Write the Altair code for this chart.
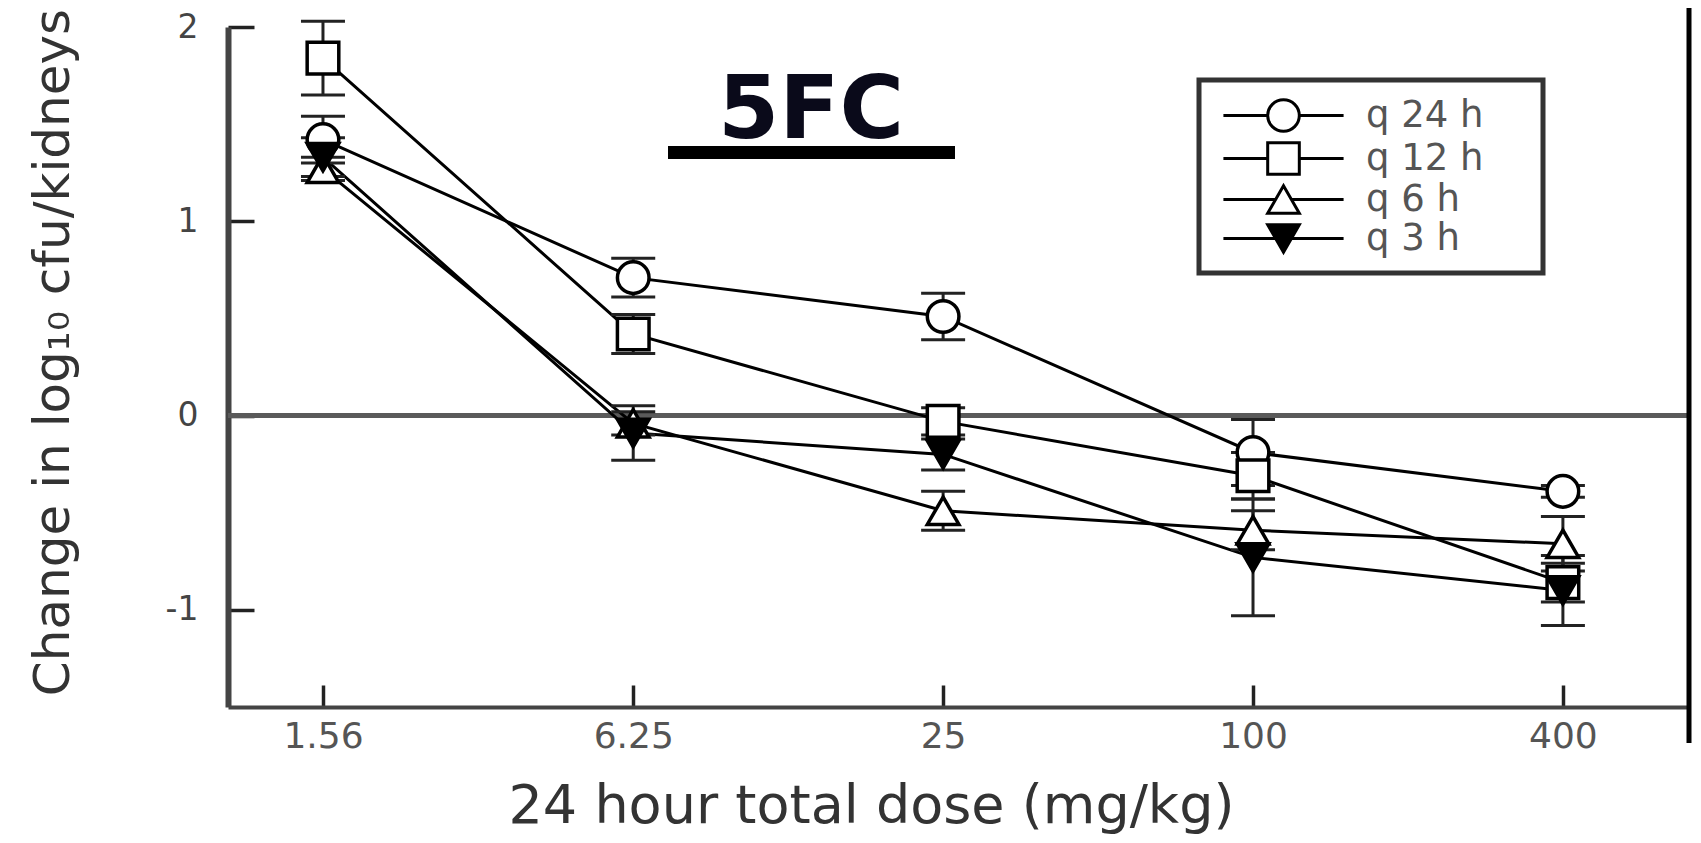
import altair as alt
import pandas as pd

# ---- data ----
doses = [1.56, 6.25, 25, 100, 400]
series_names = ["q 24 h", "q 12 h", "q 6 h", "q 3 h"]
q24 = [1.42, 0.71, 0.51, -0.19, -0.39]
q24_err = [0.12, 0.10, 0.12, 0.17, 0.03]
q12 = [1.84, 0.42, -0.03, -0.31, -0.86]
q12_err = [0.19, 0.10, 0.07, 0.12, 0.10]
q6 = [1.27, -0.04, -0.49, -0.59, -0.66]
q6_err = [0.06, 0.06, 0.10, 0.10, 0.14]
q3 = [1.33, -0.09, -0.20, -0.73, -0.90]
q3_err = [0.10, 0.14, 0.08, 0.30, 0.18]
y_ticks = [-1, 0, 1, 2]
x_ticks = doses
zero_line = [0]
title_text = "5FC"
x_title = "24 hour total dose (mg/kg)"
y_title = "Change in log\u2081\u2080 cfu/kidneys"

rows = []
for name, vals, errs in zip(series_names, [q24, q12, q6, q3], [q24_err, q12_err, q6_err, q3_err]):
    for d, v, e in zip(doses, vals, errs):
        rows.append({"series": name, "dose": d, "value": v, "lo": v - e, "hi": v + e})
df = pd.DataFrame(rows)
zero_df = pd.DataFrame({"ref": zero_line})
title_df = pd.DataFrame({"label": [title_text]})

FONT = "DejaVu Sans"
W, H = 1460, 680

xscale = alt.Scale(type="log", domain=[1.02, 700], nice=False)
yscale = alt.Scale(domain=[-1.5, 2], nice=False, zero=False)

x_axis = alt.Axis(values=x_ticks, format="~g", title=x_title, grid=False,
                  tickSize=alt.ExprRef("-22"), tickWidth=3.5, tickColor="#222",
                  domainColor="#444", domainWidth=4,
                  labelFontSize=36, labelFont=FONT, labelColor="#555", labelPadding=34,
                  titleFontSize=54, titleFont=FONT, titleFontWeight="normal", titleColor="#333",
                  titleX=643, titleY=115, titleBaseline="alphabetic", titleAlign="center")
y_axis = alt.Axis(values=y_ticks, labelExpr="'' + datum.value", title=y_title, grid=False,
                  tickSize=alt.ExprRef("-26"), tickWidth=3.5, tickColor="#222",
                  domainColor="#444", domainWidth=6,
                  labelFontSize=33, labelFont=FONT, labelColor="#444", labelPadding=56,
                  titleFontSize=50, titleFont=FONT, titleFontWeight="normal", titleColor="#333",
                  titleAngle=270, titleX=-160, titleY=325, titleBaseline="alphabetic", titleAlign="center")

X = alt.X("dose:Q", scale=xscale, axis=x_axis)
Y = alt.Y("value:Q", scale=yscale, axis=y_axis)

zero = alt.Chart(zero_df).mark_rule(color="#5a5a5a", strokeWidth=5).encode(y=alt.Y("ref:Q", scale=yscale))

lines = alt.Chart(df).mark_line(color="black", strokeWidth=3).encode(
    x=X, y=Y, detail="series:N", order="dose:Q")

err = alt.Chart(df).mark_rule(color="#222", strokeWidth=3).encode(
    x=alt.X("dose:Q", scale=xscale), y=alt.Y("lo:Q", scale=yscale), y2="hi:Q")
cap_lo = alt.Chart(df).mark_tick(orient="horizontal", size=44, thickness=3, color="#222", opacity=1).encode(
    x=alt.X("dose:Q", scale=xscale), y=alt.Y("lo:Q", scale=yscale))
cap_hi = alt.Chart(df).mark_tick(orient="horizontal", size=44, thickness=3, color="#222", opacity=1).encode(
    x=alt.X("dose:Q", scale=xscale), y=alt.Y("hi:Q", scale=yscale))

shapes = ["circle", "square", "triangle-up", "triangle-down"]
fills = ["white", "white", "white", "black"]
strokes = ["black", "black", "black", "black"]

points = alt.Chart(df).mark_point(filled=True, size=1000, stroke="black", strokeWidth=3.5, opacity=1).encode(
    x=alt.X("dose:Q", scale=xscale), y=alt.Y("value:Q", scale=yscale),
    shape=alt.Shape("series:N", scale=alt.Scale(domain=series_names, range=shapes), legend=None),
    fill=alt.Fill("series:N", scale=alt.Scale(domain=series_names, range=fills), legend=None))

# legend frame (drawn as a box behind the legend entries)
legend_box = alt.Chart(title_df).mark_rect(fill="white", stroke="#333", strokeWidth=5).encode(
    x=alt.value(971), x2=alt.value(1315), y=alt.value(53), y2=alt.value(246))

# legend symbols: marker with a short line through it
legend_paths = [
    "M-3.8,0H-1M1,0H3.8M1,0A1,1,0,1,1,-1,0A1,1,0,1,1,1,0Z",
    "M-3.8,0H-1M1,0H3.8M-1,-1H1V1H-1Z",
    "M-3.8,0H-0.5M0.5,0H3.8M0,-0.866L1,0.866L-1,0.866Z",
    "M-3.8,0H-0.5M0.5,0H3.8M0,0.866L1,-0.866L-1,-0.866Z",
]
leg = alt.Legend(title=None, orient="none", legendX=971, legendY=50,
                 symbolSize=1000, symbolStrokeWidth=3, symbolStrokeColor="black",
                 labelFontSize=37, labelFont=FONT, labelColor="#555",
                 padding=20, rowPadding=-2, symbolOffset=46, labelOffset=64)
legend_layer = alt.Chart(df).transform_filter("datum.value > 100").mark_point(
    filled=True, size=1000, strokeWidth=3, opacity=1).encode(
    x=alt.X("dose:Q", scale=xscale), y=alt.Y("value:Q", scale=yscale),
    shape=alt.Shape("series:N", scale=alt.Scale(domain=series_names, range=legend_paths), legend=leg),
    fill=alt.Fill("series:N", scale=alt.Scale(domain=series_names, range=fills), legend=leg),
    stroke=alt.Stroke("series:N", scale=alt.Scale(domain=series_names, range=strokes), legend=leg))

title_mark = alt.Chart(title_df).mark_text(fontSize=88, fontWeight="bold", font=FONT, color="#0a0a1a",
                                           align="center", baseline="alphabetic").encode(
    x=alt.value(583), y=alt.value(111), text="label:N")
underline = alt.Chart(title_df).mark_rule(color="black", strokeWidth=13).encode(
    x=alt.value(440), x2=alt.value(727), y=alt.value(125.5))
right_border = alt.Chart(title_df).mark_rule(color="black", strokeWidth=5).encode(
    x=alt.value(W + 1), y=alt.value(-27), y2=alt.value(716))

chart = alt.layer(zero, lines, err, cap_lo, cap_hi, points, legend_box, legend_layer,
                  title_mark, underline, right_border
).resolve_scale(shape="independent", fill="independent", stroke="independent").properties(
    width=W, height=H,
    autosize=alt.AutoSizeParams(type="none"),
    padding={"left": 220, "top": 19, "right": 5, "bottom": 128},
    background="white",
).configure_view(stroke=None)

chart.save("out.html", embed_options={"renderer": "svg", "actions": False})
